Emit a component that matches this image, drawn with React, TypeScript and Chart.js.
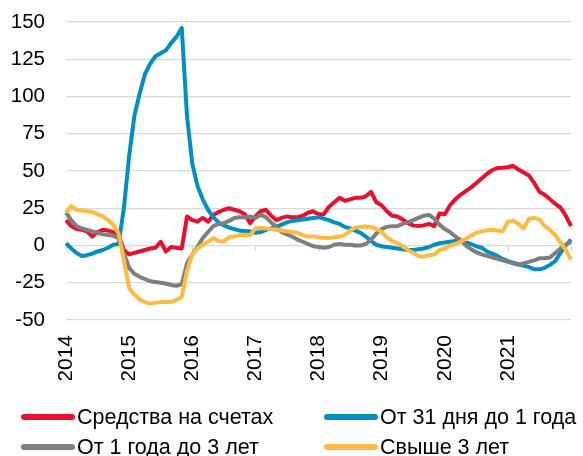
import React, { useEffect, useRef } from "react";
import { Chart, registerables } from "chart.js";

Chart.register(...registerables);

const yearTicks = ["2014", "2015", "2016", "2017", "2018", "2019", "2020", "2021"];
// monthly categories Jan 2014 .. Jan 2022
const months: string[] = [];
for (let y = 2014; y <= 2021; y++) for (let m = 1; m <= 12; m++) months.push(`${y}-${String(m).padStart(2, "0")}`);
months.push("2022-01");

const seriesNames = ["Средства на счетах", "От 31 дня до 1 года", "От 1 года до 3 лет", "Свыше 3 лет"];
const seriesColors = ["#E8112D", "#008EC4", "#7F7F7F", "#FFBA40"];

const accounts = [
  17, 13, 11, 10.5, 9.5, 6, 9, 10.5, 10, 9, 6.5, -3,
  -6, -5, -4, -3, -2, -1.5, 2.5, -4, -1, -1.5, -2, 19.5,
  17, 16, 18.5, 16, 20.5, 22.5, 24, 25, 24, 23, 21, 15,
  19.5, 23, 24, 20, 17, 18.5, 19.5, 19, 19, 20, 22, 23,
  21, 21, 26, 29, 32, 30, 31, 32, 32, 33, 36, 29,
  27, 23, 20, 19.5, 17.5, 15, 13.5, 13, 13.5, 14.5, 13, 21.5,
  21, 27, 31, 34, 36.5, 39, 42, 45, 48, 50.5, 52, 52.2,
  52.5, 53.5, 51, 49, 47, 42, 36, 34, 31, 28, 25.5, 20,
  13,
];
const days31to1y = [
  1.5, -2, -5, -7, -6.5, -5.5, -4, -3, -1.5, 0.5, 1, 25,
  60, 87, 102, 115, 122, 127, 129, 131, 136, 140, 146, 87,
  55, 40, 31, 24, 19, 15.5, 13.5, 12, 11, 10, 9.5, 9.5,
  8.5, 9, 10.5, 11.5, 12.5, 14, 15.5, 16.5, 17, 17.5, 18, 18.5,
  19, 18, 17, 15.5, 14.5, 12.5, 11.5, 10, 8.5, 6, 3, 0.5,
  -0.5, -1, -1.5, -2, -2.5, -3, -3, -2.5, -2, -1, 0.5, 1.5,
  2, 2.5, 3, 3, 2, 1, -0.5, -1.5, -4, -5.5, -7, -9,
  -10.5, -11.5, -12.5, -13.5, -14.5, -16, -16, -15, -13, -10.5, -5, 0,
  4,
];
const y1to3 = [
  22, 17, 13, 11.5, 10.5, 9.5, 8.5, 7.5, 7, 6.5, 5, -5,
  -15, -19, -21, -22.5, -24, -24.5, -25, -25.5, -26.5, -27, -26, -12,
  -6, -1, 5, 9, 13, 14.5, 15, 16.5, 18.5, 19, 19, 19.5,
  18.5, 20.5, 19, 15.5, 12.5, 9, 7.5, 6, 4, 2.5, 1, -0.5,
  -1, -1.5, -1, 0.5, 1, 0.5, 0.5, 0, 0, 1, 4, 8,
  11, 12.5, 13, 13, 14.5, 15.5, 17, 18.5, 20, 20.5, 18, 14,
  11, 9, 6, 3.8, 0, -2.5, -4.5, -6, -7, -8, -9, -10,
  -11, -12, -13, -12, -11, -10, -8.6, -8.6, -8, -5, -2, 0.5,
  2.7,
];
const over3y = [
  22, 26.5, 24, 23.5, 23, 22.5, 21, 19.5, 17, 14, 8, -10,
  -28.5, -33, -36, -38, -39, -38.5, -38, -38, -37.8, -36.5, -34.5, -17,
  -6, -2, 0.5, 2.5, 5, 3, 2.8, 5.5, 6, 7, 7.2, 7,
  11.5, 11.7, 11.5, 11, 10.5, 10, 9.5, 9, 8.5, 7, 6, 6,
  5.5, 5, 5, 5.5, 6, 7, 10, 12, 12.5, 12.8, 12.5, 11,
  9, 5.5, 3, 1.5, -0.5, -3, -5, -7, -7.5, -6.5, -6, -3,
  -2, 0, 1, 2.5, 4.5, 6.5, 8.5, 9.5, 10.3, 10.6, 10, 9.5,
  16, 16.7, 14.5, 11.5, 18, 18.5, 17.5, 13, 10.5, 7, 2, -3,
  -9.5,
];
const seriesValues = [accounts, days31to1y, y1to3, over3y];

const FONT = "'Liberation Sans', Arial, sans-serif";

const tickMarks = {
  id: "tickMarks",
  beforeDatasetsDraw(chart: any) {
    const { ctx, scales } = chart;
    const xs = scales.x;
    const y0 = scales.y.getPixelForValue(0);
    ctx.save();
    ctx.strokeStyle = "#D9D9D9";
    ctx.lineWidth = 1.3;
    for (let i = 0; i < months.length; i += 12) {
      const x = Math.round(xs.getPixelForValue(i)) + 0.5;
      ctx.beginPath();
      ctx.moveTo(x, y0);
      ctx.lineTo(x, y0 + 6);
      ctx.stroke();
    }
    ctx.restore();
  },
};

const customLegend = {
  id: "customLegend",
  afterDraw(chart: any) {
    const { ctx } = chart;
    const h = chart.height;
    const cols = [22, 325];
    const rows = [h - 39, h - 9];
    ctx.save();
    ctx.font = `21.5px ${FONT}`;
    ctx.textBaseline = "middle";
    ctx.textAlign = "left";
    chart.data.datasets.forEach((ds: any, i: number) => {
      const x = cols[i % 2];
      const y = rows[Math.floor(i / 2)];
      ctx.strokeStyle = ds.borderColor;
      ctx.lineWidth = 6;
      ctx.lineCap = "round";
      ctx.beginPath();
      ctx.moveTo(x + 2, y);
      ctx.lineTo(x + 50, y);
      ctx.stroke();
      ctx.fillStyle = "#000";
      ctx.fillText(ds.label, x + 55, y + 1);
    });
    ctx.restore();
  },
};

export default function App() {
  const ref = useRef<HTMLCanvasElement | null>(null);
  useEffect(() => {
    document.body.style.margin = "0";
    const canvas = ref.current!;
    const order = [3, 2, 1, 0];
    const chart = new Chart(canvas, {
      type: "line",
      data: {
        labels: months,
        datasets: seriesNames.map((name, i) => ({
          label: name,
          data: seriesValues[i],
          borderColor: seriesColors[i],
          backgroundColor: seriesColors[i],
          borderWidth: 4,
          pointRadius: 0,
          tension: 0,
          fill: false,
          order: order[i],
          borderJoinStyle: "round" as const,
        })),
      },
      options: {
        animation: false,
        responsive: false,
        events: [],
        layout: { padding: { top: 22, left: 0, right: 12, bottom: 76 } },
        plugins: { legend: { display: false }, tooltip: { enabled: false } },
        scales: {
          x: {
            type: "category",
            offset: false,
            grid: { display: false, drawTicks: false },
            border: { display: false },
            afterFit: (s: any) => {
              s.height = 60;
              s.paddingLeft = 0;
              s.paddingRight = 0;
            },
            ticks: {
              autoSkip: false,
              minRotation: 90,
              maxRotation: 90,
              padding: 15,
              color: "#000",
              font: { family: FONT, size: 21 },
              callback: (_v: any, idx: number) =>
                idx % 12 === 0 && idx / 12 < yearTicks.length ? yearTicks[idx / 12] : "",
            },
          },
          y: {
            min: -50,
            max: 150,
            afterFit: (s: any) => {
              s.width = 66;
              s.paddingTop = 0;
              s.paddingBottom = 0;
            },
            grid: { color: "#D9D9D9", lineWidth: 1.3, drawTicks: false },
            border: { display: false },
            ticks: {
              stepSize: 25,
              padding: 21,
              color: "#000",
              font: { family: FONT, size: 20.5 },
            },
          },
        },
      },
      plugins: [tickMarks, customLegend],
    });
    return () => chart.destroy();
  }, []);
  return (
    <div style={{ position: "fixed", left: 0, top: 0, width: 583, height: 456, background: "#fff" }}>
      <canvas ref={ref} width={583} height={456} />
    </div>
  );
}
